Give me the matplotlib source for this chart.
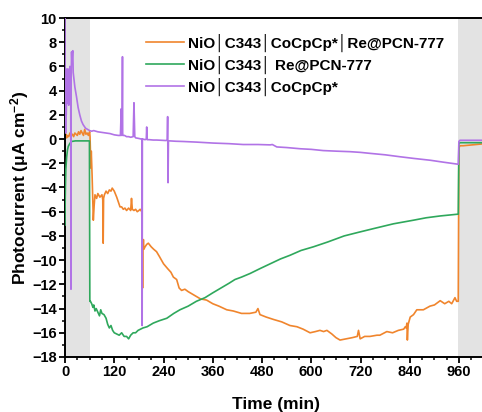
import matplotlib
matplotlib.use("Agg")
import matplotlib.pyplot as plt
from matplotlib.ticker import MultipleLocator

plt.rcParams['font.family'] = ['Liberation Sans', 'DejaVu Sans']
plt.rcParams['font.weight'] = 'bold'
plt.rcParams['mathtext.fontset'] = 'custom'
plt.rcParams['mathtext.rm'] = 'Liberation Sans:bold'
plt.rcParams['mathtext.bf'] = 'Liberation Sans:bold'
plt.rcParams['mathtext.it'] = 'Liberation Sans:bold'

SEP = "\u2502"
labels = [f"NiO{SEP}C343{SEP}CoCpCp*{SEP}Re@PCN-777",
          f"NiO{SEP}C343{SEP} Re@PCN-777",
          f"NiO{SEP}C343{SEP}CoCpCp*"]
colors = ['#F0852D', '#2FA85C', '#B173E6']

dark_periods = [(0, 60), (957, 1030)]

t_orange = [0, 1, 2, 4, 6, 9, 12, 15, 18, 21, 24, 27, 30, 33, 36, 39, 42, 45, 48, 51, 54, 57, 60,
            61, 63, 64, 66, 69, 71, 73, 77, 80, 85, 90, 92, 93, 94, 96, 100, 104, 108, 112, 115, 120,
            126, 131, 134, 138, 142, 146, 150, 155, 160, 162, 164, 168, 172, 176, 180, 183, 187,
            189, 190, 191, 192, 195, 199, 203, 210, 216, 223, 230, 240, 250, 258, 264, 272, 278, 284,
            292, 300, 310, 320, 330, 345, 360, 375, 394, 410, 430, 450, 465, 470, 475, 490, 508, 528,
            548, 565, 580, 597, 610, 621, 630, 638, 650, 660, 670, 685, 700, 712, 715, 719, 730, 743,
            760, 767, 784, 798, 812, 825, 829, 831, 833, 834, 836, 841, 849, 857, 873, 889, 900, 914,
            925, 935, 942, 950, 954, 958, 959.5, 961, 963, 970, 985, 1000, 1017]
v_orange = [1.0, 0.2, 0.4, 0.1, 0.3, 0.2, 0.5, 0.3, 0.4, 0.2, 0.5, 0.4, 0.3, 0.6, 0.4, 0.7, 0.5, 0.3, 0.8, 0.4, 0.5, 0.3, 0.6,
            0.2, -2.4, -1.0, -3.0, -6.7, -5.5, -4.6, -4.9, -4.5, -4.8, -4.6, -5.0, -8.6, -4.9, -4.6, -4.3, -4.5, -4.2, -4.3, -4.05, -4.3,
            -4.8, -5.3, -5.6, -5.6, -5.8, -5.7, -5.9, -5.7, -5.9, -4.9, -5.8, -5.9, -5.8, -6.0, -5.9, -5.8, -6.0,
            -12.3, -9.0, -8.3, -9.1, -8.9, -8.7, -8.6, -8.9, -9.1, -9.3, -9.7, -10.3, -10.7, -11.0, -11.4, -11.6, -12.3, -12.5,
            -12.4, -12.6, -12.8, -13.0, -13.2, -13.3, -13.6, -13.8, -14.1, -14.2, -14.4, -14.4, -14.3, -14.0, -14.5, -14.7, -14.9, -15.1,
            -15.4, -15.5, -15.7, -16.0, -15.9, -15.8, -15.9, -15.8, -16.1, -16.4, -16.6, -16.5, -16.4, -16.3, -15.8, -16.5, -16.3, -16.3,
            -16.2, -16.2, -15.9, -16.0, -15.8, -15.7, -15.5, -15.6, -15.2, -16.6, -15.3, -14.7, -14.5, -14.1, -14.1, -13.8, -13.7, -13.35,
            -13.6, -13.4, -13.6, -13.1, -13.4, -13.4, -0.8, -0.6, -0.55, -0.55, -0.5, -0.45, -0.4]

t_green = [0, 0.5, 1, 2, 4, 6, 8, 12, 16, 25, 40, 59.5, 60.5, 62, 65, 68, 70, 73, 76, 80, 84, 87, 90, 95, 100, 104, 108,
           112, 116, 120, 126, 132, 138, 144, 150, 155, 160, 166, 172, 178, 184, 190, 200, 215, 230, 248, 265, 280,
           300, 320, 341, 360, 385, 400, 414, 430, 451, 475, 500, 525, 548, 575, 605, 640, 680, 715, 751, 800, 849,
           880, 914, 958, 959.5, 962, 980, 1017]
v_green = [-7.1, -5.0, -4.0, -2.5, -1.5, -0.9, -0.6, -0.35, -0.2, -0.15, -0.15, -0.15, -13.4, -13.4, -13.6, -13.9, -13.7, -14.2, -14.0, -14.3, -14.6, -14.1, -14.4, -14.5, -14.8, -15.3, -15.6,
           -15.4, -15.8, -16.0, -16.1, -16.2, -16.0, -16.3, -16.3, -16.5, -16.2, -16.0, -16.0, -15.8, -15.7, -15.6, -15.5, -15.2, -15.0, -14.8, -14.4, -14.1,
           -13.8, -13.4, -13.1, -12.7, -12.2, -11.9, -11.6, -11.4, -11.1, -10.7, -10.3, -9.9, -9.6, -9.2, -8.9, -8.5, -8.0, -7.7, -7.4, -7.0, -6.7,
           -6.5, -6.35, -6.2, -0.4, -0.3, -0.3, -0.3]

t_purple = [0, 0.5, 1, 1.5, 2, 3, 4, 5, 6, 7, 8, 9, 10, 11, 12, 13, 14, 14.6, 15, 16, 17, 18, 19, 20, 24, 28, 32, 36,
            40, 44, 50, 55, 60, 65, 70, 80, 90, 100, 110, 120, 130, 135, 137, 138, 139, 140, 140.5, 141, 145, 150,
            155, 160, 166, 168, 170, 172, 180, 186, 187.5, 188, 188.5, 190, 195, 198, 199, 200, 205, 215, 223, 235,
            245, 249, 250, 251, 252, 255, 270, 288, 320, 361, 400, 434, 470, 500, 505, 516, 540, 573, 600, 629, 662,
            694, 720, 743, 780, 816, 850, 890, 920, 958, 959.5, 962, 980, 1017]
v_purple = [10.5, 2.0, 5.0, 0.5, 3.4, 2.0, 3.5, 5.8, 3.0, 4.5, 5.5, 2.8, 5.8, 3.5, 6.0, 4.0, 3.0, -12.4, 5.0, 7.2, 6.3, 7.1, 7.3, 5.5, 4.3, 3.5, 2.6, 2.0,
            1.5, 1.2, 0.9, 0.8, 0.7, 0.65, 0.7, 0.6, 0.55, 0.5, 0.45, 0.35, 0.3, 0.3, 2.5, 0.3, 0.4, 6.8, 0.5, 0.3, 0.3, 0.2,
            0.2, 0.15, 0.2, 3.0, 0.2, 0.1, 0.05, 0.0, 0.0, -15.4, 0.0, 0.0, -0.05, 0.0, 1.0, -0.05, -0.05, -0.08, -0.08, -0.1,
            -0.12, -0.1, 1.85, -3.6, -0.15, -0.15, -0.18, -0.2, -0.25, -0.33, -0.38, -0.45, -0.45, -0.48, -0.45, -0.65, -0.7, -0.8, -0.85, -0.95, -1.0,
            -1.04, -1.1, -1.18, -1.3, -1.46, -1.6, -1.75, -1.9, -2.08, -0.2, -0.1, -0.1, -0.1]

fig = plt.figure(figsize=(4.82, 4.12), dpi=100)
ax = fig.add_axes([65/482, 55/412, (487 - 65)/482, (357 - 18)/412])

for a, b in dark_periods:
    ax.axvspan(a, b, color='#e3e3e3', lw=0, zorder=0)

ax.plot(t_orange, v_orange, color=colors[0], lw=1.2, label=labels[0], zorder=2)
ax.plot(t_green, v_green, color=colors[1], lw=1.2, label=labels[1], zorder=3)
ax.plot(t_purple, v_purple, color=colors[2], lw=1.2, label=labels[2], zorder=4)

ax.set_xlim(0, 1028)
ax.set_ylim(-18, 10)
ax.xaxis.set_major_locator(MultipleLocator(120))
ax.xaxis.set_minor_locator(MultipleLocator(30))
ax.yaxis.set_major_locator(MultipleLocator(2))
ax.yaxis.set_minor_locator(MultipleLocator(1))
ax.tick_params(axis='both', which='major', direction='out', length=4.5, width=1.3,
               labelsize=10.5, pad=1.5)
ax.tick_params(axis='both', which='minor', direction='out', length=2.5, width=1.1)
for lab in ax.get_xticklabels() + ax.get_yticklabels():
    lab.set_fontweight('bold')
for s in ax.spines.values():
    s.set_linewidth(1.4)

ax.set_xlabel('Time (min)', fontsize=12.5, fontweight='bold', labelpad=12.5)
ax.set_ylabel('Photocurrent (μA cm$^{-2}$)', fontsize=12.5, fontweight='bold', labelpad=0.5)

leg = ax.legend(loc='upper left', bbox_to_anchor=(0.178, 0.972), frameon=False,
                fontsize=11, handlelength=2.5, handletextpad=0.25, labelspacing=0.25,
                borderaxespad=0)
for txt in leg.get_texts():
    txt.set_fontweight('bold')

fig.savefig('out.png', dpi=100)
